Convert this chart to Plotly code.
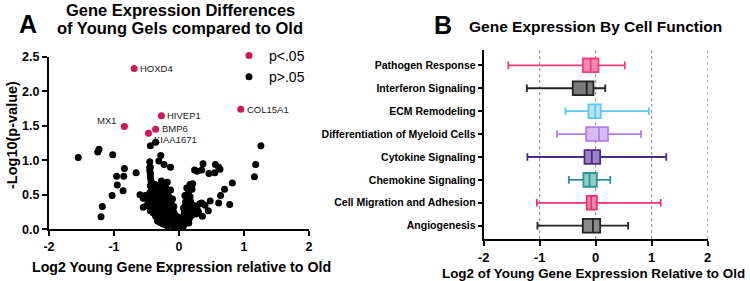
import plotly.graph_objects as go

# ---------------- Panel A data ----------------
sig_genes = ["HOXD4", "HIVEP1", "BMP6", "KIAA1671", "MX1", "COL15A1"]
sig_x = [-0.69, -0.27, -0.36, -0.47, -0.84, 0.95]
sig_y = [2.33, 1.645, 1.45, 1.39, 1.49, 1.74]

ns_x = [-1.55, -1.23, -1.25, -1.02, -0.96, -0.95, -1.03, -0.84, -0.85, -0.86, -0.66, -1.18, -1.20,
        -0.44, -0.36, -0.28, -0.45, -0.44, -0.31, -0.23, -0.13, -0.44,
        1.26, 1.18, 1.16, 0.82, 0.70, 0.64, 0.78, 0.61, 0.48, 0.37, 0.28, 0.24, 0.35, 0.46, 0.56, 0.61, 0.63, 0.55,
        0.21, 0.18, 0.35, 0.45, 0.36, 0.25, 0.10, 0.09,
        -0.02, -0.04, -0.06, -0.08, -0.10, -0.03, -0.12, -0.07, -0.15, -0.01, 0.02, 0.04, 0.06, 0.08, 0.03, 0.10, 0.00, -0.05,
        -0.18, -0.14, -0.20, -0.10, -0.06, -0.24, -0.16, -0.28, -0.09, -0.22, -0.12, 0.05, 0.09, 0.13, 0.12, 0.16, 0.19, 0.07, -0.30, -0.26,
        -0.32, -0.27, -0.20, -0.15, -0.35, -0.24, -0.18, -0.11, -0.38, -0.30, -0.13, -0.07, 0.10, 0.14, 0.18, 0.22, 0.26, 0.30, 0.12, 0.20, 0.28, -0.40, -0.44,
        -0.42, -0.36, -0.29, -0.22, -0.16, -0.46, -0.40, -0.33, -0.26, -0.19, -0.12, -0.08, 0.10, 0.15, 0.22, 0.18, -0.50, -0.55, 0.40, 0.32,
        -0.48, -0.41, -0.35, -0.28, -0.21, -0.15, -0.44, -0.37, -0.30, -0.23, -0.17, -0.10, 0.13, 0.17, 0.12, -0.55, -0.52,
        -0.45, -0.38, -0.31, -0.25, -0.19, -0.42, -0.34, -0.27, -0.20, -0.13, 0.15, 0.20, 0.12, -0.60,
        -0.44, -0.37, -0.30, -0.24, -0.18, -0.43, -0.27, 0.17,
        -0.44, -0.44, -0.45, -0.45,
        -0.33, -0.25, -0.18, -0.11, -0.05, 0.05, 0.15, -0.36, -0.22, -0.08, 0.03, 0.08, -0.29, -0.16, -0.02, 0.07]
ns_y = [1.04, 1.16, 1.12, 1.08, 0.77, 0.64, 0.49, 0.88, 0.77, 0.56, 0.82, 0.33, 0.18,
        1.21, 1.26, 1.07, 0.98, 0.90, 0.99, 0.94, 0.90, 0.81,
        1.21, 0.94, 0.76, 0.67, 0.58, 0.49, 0.36, 0.38, 0.41, 0.95, 0.84, 0.86, 0.86, 0.81, 0.94, 0.90, 0.87, 0.82,
        0.66, 0.61, 0.38, 0.27, 0.19, 0.33, 0.40, 0.49,
        0.01, 0.03, 0.05, 0.02, 0.06, 0.07, 0.09, 0.10, 0.08, 0.04, 0.02, 0.05, 0.03, 0.07, 0.09, 0.10, 0.00, 0.00,
        0.12, 0.15, 0.17, 0.14, 0.13, 0.14, 0.19, 0.18, 0.18, 0.20, 0.20, 0.12, 0.15, 0.12, 0.18, 0.16, 0.20, 0.19, 0.15, 0.11,
        0.22, 0.24, 0.25, 0.23, 0.27, 0.28, 0.29, 0.26, 0.30, 0.30, 0.30, 0.22, 0.23, 0.26, 0.24, 0.27, 0.22, 0.25, 0.30, 0.30, 0.29, 0.24, 0.27,
        0.33, 0.35, 0.34, 0.33, 0.35, 0.37, 0.39, 0.38, 0.39, 0.38, 0.37, 0.33, 0.34, 0.37, 0.35, 0.40, 0.34, 0.32, 0.35, 0.37,
        0.42, 0.44, 0.43, 0.45, 0.43, 0.46, 0.48, 0.49, 0.50, 0.48, 0.50, 0.44, 0.43, 0.47, 0.50, 0.45, 0.49,
        0.53, 0.55, 0.54, 0.56, 0.55, 0.59, 0.60, 0.59, 0.60, 0.57, 0.55, 0.58, 0.60, 0.50,
        0.63, 0.65, 0.64, 0.66, 0.68, 0.70, 0.70, 0.65,
        0.75, 0.80, 0.85, 0.90,
        0.12, 0.08, 0.05, 0.16, 0.11, 0.07, 0.09, 0.19, 0.07, 0.25, 0.14, 0.25, 0.10, 0.41, 0.18, 0.31]

# ---------------- Panel B data ----------------
functions = ["Pathogen Response", "Interferon Signaling", "ECM Remodeling",
             "Differentiation of Myeloid Cells", "Cytokine Signaling", "Chemokine Signaling",
             "Cell Migration and Adhesion", "Angiogenesis"]
fn_min = [-1.56, -1.23, -0.54, -0.69, -1.22, -0.48, -1.05, -1.04]
fn_q1 = [-0.23, -0.41, -0.13, -0.17, -0.20, -0.22, -0.16, -0.23]
fn_med = [-0.09, -0.16, -0.01, 0.06, -0.07, -0.11, -0.08, -0.05]
fn_q3 = [0.05, -0.04, 0.09, 0.22, 0.08, 0.02, 0.02, 0.08]
fn_max = [0.52, 0.17, 0.95, 0.81, 1.26, 0.26, 1.16, 0.58]
line_colors = ["#f03c7c", "#222222", "#5ec8f2", "#b47cef", "#4a2c86", "#2a9690", "#f2306c", "#222222"]
fill_colors = ["#f58ab4", "#7a7a7a", "#b7e4f8", "#d7baf6", "#9a83c6", "#8ecdc8", "#f58cae", "#8a8a8a"]

xticks = [-2, -1, 0, 1, 2]
yticksA = [0, 0.5, 1.0, 1.5, 2.0, 2.5]

FONT = "Arial, Liberation Sans, sans-serif"
RED = "#d4145a"
W, H = 750, 281

def px(x):
    return x / W

def py(y):
    return 1 - y / H

fig = go.Figure()

fig.add_trace(go.Scatter(x=sig_x, y=sig_y, mode="markers", name="p<.05",
                         marker=dict(color=RED, size=7), xaxis="x", yaxis="y"))
fig.add_trace(go.Scatter(x=ns_x, y=ns_y, mode="markers", name="p>.05",
                         marker=dict(color="black", size=7), xaxis="x", yaxis="y"))

# gene labels
label_pos = {
    "HOXD4": dict(xanchor="left", xshift=4, yshift=0),
    "HIVEP1": dict(xanchor="left", xshift=4, yshift=0),
    "BMP6": dict(xanchor="left", xshift=4, yshift=1),
    "KIAA1671": dict(xanchor="left", xshift=4, yshift=-6),
    "MX1": dict(xanchor="right", xshift=-5, yshift=6),
    "COL15A1": dict(xanchor="left", xshift=4, yshift=0),
}
for g, gx, gy in zip(sig_genes, sig_x, sig_y):
    p = label_pos[g]
    fig.add_annotation(x=gx, y=gy, xref="x", yref="y", text=g, showarrow=False,
                       xanchor=p["xanchor"], yanchor="middle", xshift=p["xshift"], yshift=p["yshift"],
                       font=dict(family=FONT, size=9.5, color="#222"))

for i, f in enumerate(functions):
    fig.add_trace(go.Box(
        y=[f], q1=[fn_q1[i]], median=[fn_med[i]], q3=[fn_q3[i]],
        lowerfence=[fn_min[i]], upperfence=[fn_max[i]],
        orientation="h", xaxis="x2", yaxis="y2", showlegend=False,
        line=dict(color=line_colors[i], width=1.8), fillcolor=fill_colors[i],
        width=0.6, whiskerwidth=0.55, boxpoints=False, hoverinfo="skip"))

def bold(lst, fmt="{}"):
    return ["<b>" + fmt.format(v) + "</b>" for v in lst]

axis_common = dict(showgrid=False, zeroline=False, showline=True, linecolor="black", linewidth=2,
                   ticks="outside", ticklen=5, tickwidth=2, tickcolor="black", automargin=False)

fig.update_layout(
    width=W, height=H, autosize=False,
    margin=dict(l=0, r=0, t=0, b=0, pad=0),
    plot_bgcolor="white", paper_bgcolor="white",
    font=dict(family=FONT, color="black"),
    showlegend=True,
    legend=dict(x=px(229), y=py(40), xanchor="left", yanchor="top", bgcolor="rgba(0,0,0,0)",
                font=dict(family=FONT, size=14, color="black"), tracegroupgap=0),
    xaxis=dict(domain=[px(49), px(309)], range=[-2, 2], tickvals=xticks,
               ticktext=bold(xticks), tickfont=dict(family=FONT, size=12.5, color="black"),
               anchor="y", **axis_common),
    yaxis=dict(domain=[py(229.3), py(56.7)], range=[0, 2.5], tickvals=yticksA,
               ticktext=bold(yticksA, "{:.1f}"), tickfont=dict(family=FONT, size=12.5, color="black"),
               anchor="x", **axis_common),
    xaxis2=dict(domain=[px(483.7), px(707.7)], range=[-2, 2], tickvals=xticks,
                ticktext=bold(xticks), tickfont=dict(family=FONT, size=13, color="black"),
                anchor="y2", **axis_common),
    yaxis2=dict(domain=[py(239), py(50)], type="category",
                categoryorder="array", categoryarray=functions[::-1], range=[-0.58, 7.67],
                tickvals=functions, ticktext=bold(functions),
                showgrid=False, zeroline=False, showline=True, linecolor="black", linewidth=2,
                ticks="outside", ticklen=4, tickwidth=1.5, tickcolor="black", automargin=False,
                tickfont=dict(family=FONT, size=10.5, color="black"),
                anchor="x2"),
)

# dotted grid lines in panel B
for gx in xticks[1:]:
    fig.add_shape(type="line", xref="x2", yref="paper", x0=gx, x1=gx,
                  y0=py(239), y1=py(50), line=dict(color="#888", width=1, dash="dot"), layer="below")

def txt(x, y, s, size, **kw):
    fig.add_annotation(x=px(x), y=py(y), xref="paper", yref="paper", showarrow=False,
                       text=s, font=dict(family=FONT, size=size, color="black"),
                       xanchor="center", yanchor="middle", **kw)

# titles
txt(180, 10, "<b>Gene Expression Differences</b>", 16.5)
txt(180, 28, "<b>of Young Gels compared to Old</b>", 16.5)
txt(28, 24, "<b>A</b>", 25)
txt(443, 25, "<b>B</b>", 25)
txt(595, 26, "<b>Gene Expression By Cell Function</b>", 15.5)
# axis titles
txt(181, 266.5, "<b>Log2 Young Gene Expression relative to Old</b>", 14.2)
txt(593, 273, "<b>Log2 of Young Gene Expression Relative to Old</b>", 13.4)
txt(12, 135, "<b>-Log10(p-value)</b>", 14.5, textangle=-90)

fig.write_html("out.html", config={"displayModeBar": False},
               post_script="document.body.style.margin='0';document.body.style.padding='0';document.body.style.overflow='hidden';")
